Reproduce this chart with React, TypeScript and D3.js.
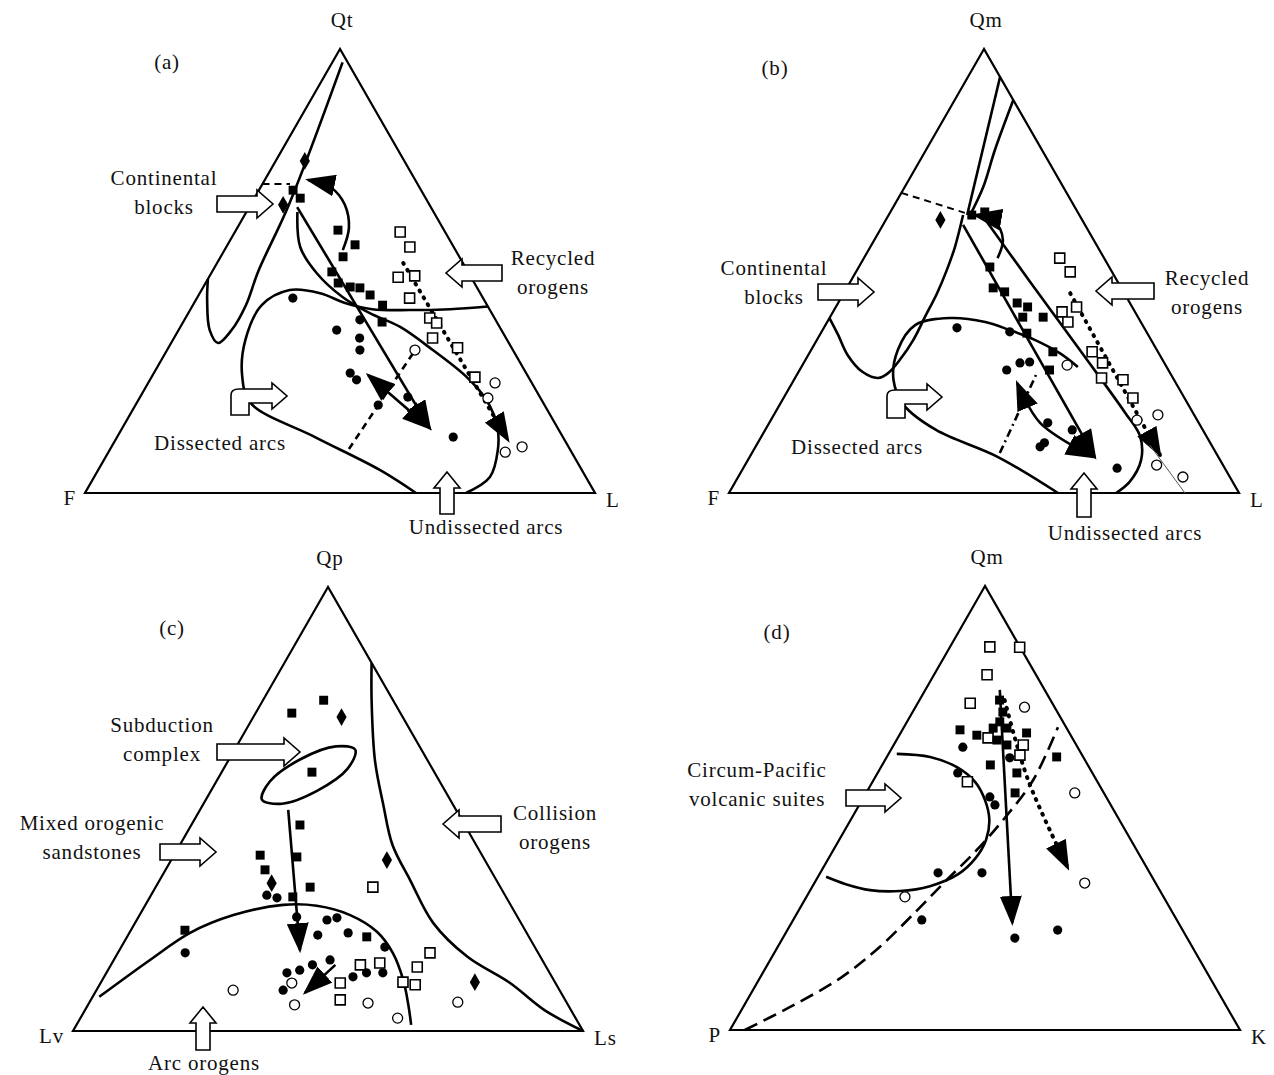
import React from 'react';
import * as d3 from 'd3';

// composition = [top, left, right] in percent
type Comp = [number, number, number];

const SIDE = 510;
const HEIGHT = 444;
const FONT = '"Liberation Serif", "DejaVu Serif", serif';

// ---------- (a) Qt-F-L ----------
const aFieldContinental: Comp[] = [[97, 1, 2], [65, 27.5, 7.5], [50, 41, 9], [42.3, 47.3, 10.4], [36.7, 52.9, 10.4], [33.8, 57, 9.2], [36.7, 57.2, 6.1], [43.5, 54.3, 2.2], [48.2, 51.8, 0]];
const aFieldArcLoop: Comp[] = [[0, 35.1, 64.9], [5.2, 39.6, 55.2], [12.6, 48.6, 38.8], [20.3, 57.4, 22.3], [26.6, 55.9, 17.5], [34.5, 51.3, 14.2], [42.3, 44.2, 13.5], [45.7, 37, 17.3], [45, 31.4, 23.6], [42.8, 27.6, 29.6], [41.4, 23, 35.6], [41.2, 15.7, 43.1], [41.4, 7.7, 50.9], [42, 0, 58]];
const aFieldArcRight: Comp[] = [[63.3, 26.7, 10], [55.4, 30.1, 14.5], [49.5, 29.8, 20.7], [44.1, 27.4, 28.5], [40.5, 23.9, 35.6], [37.4, 19.5, 43.1], [32.2, 15.7, 52.1], [26.1, 12.1, 61.8], [20.9, 10.8, 68.3], [14.9, 11.7, 73.4], [9.7, 14.2, 76.1], [3.6, 18.8, 77.6], [0, 25.3, 74.7]];
const aContinentalDash: Comp[] = [[69.6, 30.4, 0], [69.6, 25, 5.4]];
const aTrendMain: Comp[] = [[64.4, 26.2, 9.4], [14.6, 25.1, 60.3]];
const aTrendDouble: Comp[] = [[26.6, 31.2, 42.2], [14.6, 25.1, 60.3]];
const aTrendCurved: Comp[] = [[54.7, 22.1, 23.2], [59.7, 18.4, 21.9], [64.9, 16.6, 18.5], [68.7, 17.3, 14], [70.5, 21, 8.5]];
const aTrendDashed: Comp[] = [[9.9, 43.3, 46.8], [32.9, 18.4, 48.7]];
const aTrendDotted: Comp[] = [[51.8, 11.7, 36.5], [11.9, 11.1, 77]];
const aFilledSquares: Comp[] = [[68.2, 25.1, 6.7], [66.4, 24.6, 9], [59.2, 20.8, 20], [55.9, 19.1, 25], [53.2, 22.8, 24], [49.8, 26.7, 23.5], [47.3, 26.7, 26], [46.4, 24.8, 28.8], [46.2, 23, 30.8], [44.6, 21.8, 33.6], [42.3, 20.5, 37.2], [38.5, 22.5, 39]];
const aOpenSquares: Comp[] = [[58.8, 8.8, 32.4], [55.4, 8.6, 36], [48.6, 14.3, 37.1], [48.9, 10.9, 40.2], [43.9, 14.4, 41.7], [39.4, 12.7, 47.9], [38.3, 11.9, 49.8], [34.9, 14.4, 50.7], [32.7, 10.6, 56.7], [26.1, 10.5, 63.4]];
const aOpenCircles: Comp[] = [[32.2, 19.2, 48.6], [24.8, 7.2, 68], [21.4, 10.3, 68.3], [9.2, 13, 77.8], [10.4, 9.1, 80.5]];
const aFilledCircles: Comp[] = [[43.9, 37.3, 18.8], [36.7, 32.3, 31], [39, 26.6, 34.4], [34.9, 28.7, 36.4], [32.2, 30, 37.8], [27, 34.5, 38.5], [25.5, 34, 40.5], [21.6, 25.9, 52.5], [19.8, 32.6, 47.6], [12.6, 21.5, 65.9]];
const aDiamonds: Comp[] = [[74.8, 19.5, 5.7], [64.9, 28.7, 6.4]];

// ---------- (b) Qm-F-L ----------
const bFieldUpper1: Comp[] = [[93.7, 0, 6.3], [62.6, 22, 15.4]];
const bFieldUpper2: Comp[] = [[88.5, 0, 11.5], [77.3, 9.2, 13.5], [68.9, 15.7, 15.4], [62.2, 21.8, 16]];
const bFieldContinental: Comp[] = [[62.6, 22.8, 14.6], [55.4, 28, 16.6], [50.2, 32.2, 17.6], [45, 36.7, 18.3], [39.6, 41.8, 18.6], [34.5, 46.6, 18.9], [30, 51.5, 18.5], [27, 55.3, 17.7], [25.9, 57.8, 16.3], [27.3, 60.2, 12.5], [31.1, 61.2, 7.7], [35.6, 60.8, 3.6], [39.4, 60.6, 0]];
const bFieldArcLoop: Comp[] = [[0, 35.5, 64.5], [8.1, 43.2, 48.7], [14.2, 52.3, 33.5], [19.8, 55.8, 24.4], [25.5, 55, 19.5], [32.2, 50.8, 17], [37.8, 44.6, 17.6], [39.4, 37, 23.6], [38.5, 30.5, 31], [36.7, 26.6, 36.7], [34.5, 22.8, 42.7], [31.5, 19.4, 49.1], [28.4, 17.4, 54.2]];
const bFieldArcRight: Comp[] = [[62.6, 19.1, 18.3], [47.7, 17.2, 35.1], [32.2, 15.1, 52.7], [18.2, 13.3, 68.5], [12.8, 13, 74.2], [7.4, 15.5, 77.1], [2.5, 20.2, 77.3], [0, 24.1, 75.9]];
const bContinentalDash: Comp[] = [[67.6, 32.4, 0], [63.1, 22.2, 14.7]];
const bTrendMain: Comp[] = [[60.4, 23.9, 15.7], [8.1, 24.2, 67.7]];
const bTrendDouble: Comp[] = [[24.8, 31.1, 44.1], [15.8, 31.1, 53.1], [8.1, 24.5, 67.4]];
const bTrendCurved: Comp[] = [[52.9, 20.9, 26.2], [57, 17.8, 25.2], [61, 17.3, 21.7], [62.6, 20.5, 16.9]];
const bTrendDashed: Comp[] = [[9, 42.4, 48.6], [26.6, 26.5, 46.9]];
const bTrendDotted: Comp[] = [[45, 10.6, 44.4], [8.6, 11.2, 80.2]];
const bTrendThin: Comp[] = [[10.8, 12.1, 77.1], [0, 10.6, 89.4]];
const bFilledSquares: Comp[] = [[50.9, 23.4, 25.7], [46.2, 25.1, 28.7], [45.3, 23.3, 31.4], [42.8, 22.1, 35.1], [41.9, 20.5, 37.6], [39.6, 18.6, 41.8], [39.6, 22.6, 37.8], [36, 23.6, 40.4], [27.7, 23.3, 49], [31.8, 20.6, 47.6], [62.6, 21.1, 16.3], [63.3, 18.2, 18.5]];
const bOpenSquares: Comp[] = [[52.9, 8.7, 38.4], [49.8, 8.2, 42], [41.9, 10.9, 47.2], [40.8, 14.3, 44.9], [38.5, 14.3, 47.2], [31.8, 12.9, 55.3], [29.3, 12.1, 58.6], [25.9, 14, 60.1], [25.5, 10, 64.5], [21.4, 10.1, 68.5]];
const bOpenCircles: Comp[] = [[28.8, 19.3, 51.9], [16.4, 11.8, 71.8], [17.6, 7.1, 75.3], [6.3, 13, 80.7], [3.6, 9.2, 87.2]];
const bFilledCircles: Comp[] = [[37.2, 36.7, 26.1], [36.3, 26.8, 36.9], [27.7, 31.7, 40.6], [29.3, 28.3, 42.4], [29.5, 26.3, 44.2], [15.8, 29.6, 54.6], [14.2, 25.6, 60.2], [10.4, 33.8, 55.8], [11.3, 32.5, 56.2], [5.6, 21.1, 73.3]];
const bDiamonds: Comp[] = [[61.5, 27.8, 10.7]];

// ---------- (c) Qp-Lv-Ls ----------
const cFieldSubduction: Comp[] = [[63.3, 13, 23.7], [59.1, 16.6, 24.3], [54.1, 25.1, 20.8], [51.2, 33.4, 15.4], [52.1, 36.9, 11], [56.2, 33.3, 10.5], [61.2, 24.8, 14], [64.1, 16.4, 19.5]];
const cFieldArc: Comp[] = [[7.7, 91, 1.3], [16, 76.9, 7.1], [22.1, 66, 11.9], [26.1, 55.5, 18.4], [28.4, 44.6, 27], [28.2, 38.1, 33.7], [26.1, 32.6, 41.3], [22.3, 29.2, 48.5], [17.6, 28.5, 53.9], [11.5, 29.5, 59], [5.9, 31.3, 62.8], [1.4, 33, 65.6]];
const cFieldCollision: Comp[] = [[82.9, 0, 17.1], [74.5, 4.2, 21.3], [61, 10.3, 28.7], [50.9, 13.7, 35.4], [41.9, 16.4, 41.7], [34, 16.9, 49.1], [24.3, 17.2, 58.5], [16.7, 14.3, 69], [10.8, 8.9, 80.3], [4.7, 5.2, 90.1], [0, 0, 100]];
const cTrendMain: Comp[] = [[49.8, 32.9, 17.3], [18.2, 46.4, 35.4]];
const cTrendShort: Comp[] = [[14.9, 41.1, 44], [8.6, 50.2, 41.2]];
const cFilledSquares: Comp[] = [[71.6, 21.3, 7.1], [74.5, 13.6, 11.9], [58.3, 24, 17.7], [46.4, 32.3, 21.3], [39.6, 43.5, 16.9], [36.3, 44.2, 19.5], [39.2, 36.5, 24.3], [32.4, 37.3, 30.3], [22.7, 66.7, 10.6], [21.2, 31.8, 47], [30.2, 41.8, 28]];
const cDiamonds: Comp[] = [[70.7, 12, 17.3], [38.5, 19.2, 42.3], [33.3, 44.4, 22.3], [11, 15.7, 73.3]];
const cOpenSquares: Comp[] = [[32.4, 25, 42.6], [17.6, 21.2, 61.2], [14.9, 36.2, 48.9], [15.3, 32.2, 52.5], [14.4, 25.3, 60.3], [11, 29.8, 59.2], [10.4, 27.7, 61.9], [10.8, 42.2, 47], [7, 44.1, 48.9]];
const cOpenCircles: Comp[] = [[9.2, 64, 26.8], [5.9, 53.6, 40.5], [10.8, 51.7, 37.5], [6.3, 39, 54.7], [2.9, 34.9, 62.2], [6.5, 21.3, 72.2]];
const cFilledCircles: Comp[] = [[30.6, 46.7, 22.7], [30, 45, 25], [25.7, 43.3, 31], [25, 37.7, 37.3], [25.5, 35.5, 39], [21.6, 41.2, 37.2], [22.1, 35, 42.9], [18.9, 29.4, 51.7], [17.6, 69.2, 13.2], [13.1, 51.5, 35.4], [13.7, 48.7, 37.6], [14.9, 45.6, 39.5], [16, 41.6, 42.4], [9.2, 54.2, 36.6], [12.2, 39, 48.8], [13.1, 35.9, 51], [13.1, 32.7, 54.2]];

// ---------- (d) Qm-P-K ----------
const dFieldVolcanic: Comp[] = [[62.2, 36.2, 1.6], [61.5, 30, 8.5], [59.2, 25.9, 14.9], [55.9, 24, 20.1], [51.8, 24.1, 24.1], [47.3, 25.5, 27.2], [42.8, 28.4, 28.8], [38.7, 32.5, 28.8], [35.1, 37.7, 27.2], [32.4, 44.6, 23], [31.3, 51, 17.7], [31.5, 56.8, 11.7], [32.9, 61, 6.1], [34.5, 63.9, 1.6]];
const dFieldDashed: Comp[] = [[0, 97.1, 2.9], [5.2, 85.6, 9.2], [11.7, 72.5, 15.8], [18.7, 61.3, 20], [26.1, 51, 22.9], [33.8, 40.6, 25.6], [40.5, 31.4, 28.1], [47.3, 22.8, 29.9], [56.3, 12.4, 31.3], [68.2, 1.6, 30.2]];
const dTrendMain: Comp[] = [[76.6, 8.8, 14.6], [24.1, 32.6, 43.3]];
const dTrendDotted: Comp[] = [[74.3, 9, 16.7], [56.3, 13.4, 30.3], [36.5, 15.5, 48]];
const dOpenSquares: Comp[] = [[86.3, 5.9, 7.8], [86.2, 0.1, 13.7], [80, 9.6, 10.4], [73.6, 16.1, 10.3], [65.8, 16.5, 17.7], [64.2, 10.4, 25.4], [55.9, 25.5, 18.6], [61.9, 12.2, 25.9]];
const dOpenCircles: Comp[] = [[72.7, 5.9, 21.4], [53.4, 5.7, 40.9], [33.1, 13.9, 53], [30, 50.7, 19.3]];
const dFilledSquares: Comp[] = [[67.6, 21.1, 11.3], [66.4, 18.4, 15.2], [68, 14.4, 17.6], [66.9, 8.4, 24.7], [61.5, 5.2, 33.3], [59.7, 19.1, 21.2], [57.9, 14.8, 27.3], [53.4, 17.4, 29.2], [64.2, 13.6, 22.2], [65.3, 15, 19.7], [74.3, 10, 15.7], [71.6, 10.7, 17.7], [69.4, 12.4, 18.2], [68, 11.7, 20.3]];
const dFilledCircles: Comp[] = [[63.7, 22.5, 13.8], [61.3, 14.5, 24.2], [57.9, 26.4, 15.7], [52.5, 22.8, 24.7], [50.7, 22.7, 26.6], [35.4, 41.5, 23.1], [35.4, 32.9, 31.7], [24.8, 50, 25.2], [20.7, 33.8, 45.5], [22.5, 24.5, 53]];

type Field = { pts: Comp[]; closed?: boolean; dash?: string; width?: number };
type Trend = { pts: Comp[]; kind: 'solid' | 'dashed' | 'dotted' | 'dashdot' | 'thin'; head?: boolean; tail?: boolean };
type Note = { lines: string[]; cx: number; y: number; arrow: string };

// hollow annotation arrows
const hollow = (dir: string, tx: number, ty: number, len: number) => {
  const sh = 8, hh = 14, hl = 16;
  if (dir === 'right') return `M${tx - len},${ty - sh}L${tx - hl},${ty - sh}L${tx - hl},${ty - hh}L${tx},${ty}L${tx - hl},${ty + hh}L${tx - hl},${ty + sh}L${tx - len},${ty + sh}Z`;
  if (dir === 'left') return `M${tx + len},${ty - sh}L${tx + hl},${ty - sh}L${tx + hl},${ty - hh}L${tx},${ty}L${tx + hl},${ty + hh}L${tx + hl},${ty + sh}L${tx + len},${ty + sh}Z`;
  const w = 7, hw = 13;
  return `M${tx - w},${ty + len}L${tx - w},${ty + hl}L${tx - hw},${ty + hl}L${tx},${ty}L${tx + hw},${ty + hl}L${tx + w},${ty + hl}L${tx + w},${ty + len}Z`;
};
const bent = (x: number, yb: number, tx: number, ty: number) =>
  `M${x},${yb}L${x},${ty - 1}Q${x},${ty - 7} ${x + 8},${ty - 7}L${tx - 15},${ty - 7}L${tx - 15},${ty - 13}L${tx},${ty}L${tx - 15},${ty + 13}L${tx - 15},${ty + 7}L${x + 18},${ty + 7}L${x + 18},${yb}Z`;

const panels = [
  {
    x0: 85, yb: 493, names: ['Qt', 'F', 'L'], tag: '(a)', tagPos: [167, 69],
    fields: [
      { pts: aFieldContinental }, { pts: aFieldArcLoop }, { pts: aFieldArcRight },
      { pts: aContinentalDash, dash: '7,5', width: 2 },
    ] as Field[],
    trends: [
      { pts: aTrendMain, kind: 'solid', head: true },
      { pts: aTrendDouble, kind: 'solid', head: true, tail: true },
      { pts: aTrendCurved, kind: 'solid', head: true },
      { pts: aTrendDashed, kind: 'dashed' },
      { pts: aTrendDotted, kind: 'dotted', head: true },
    ] as Trend[],
    fs: aFilledSquares, os: aOpenSquares, fc: aFilledCircles, oc: aOpenCircles, dm: aDiamonds,
    notes: [
      { lines: ['Continental', 'blocks'], cx: 164, y: 185, arrow: hollow('right', 273, 204, 56) },
      { lines: ['Recycled', 'orogens'], cx: 553, y: 265, arrow: hollow('left', 446, 273, 56) },
      { lines: ['Dissected arcs'], cx: 220, y: 450, arrow: bent(231, 415, 287, 396) },
      { lines: ['Undissected arcs'], cx: 486, y: 534, arrow: hollow('up', 447, 472, 42) },
    ] as Note[],
  },
  {
    x0: 729, yb: 493, names: ['Qm', 'F', 'L'], tag: '(b)', tagPos: [775, 75],
    fields: [
      { pts: bFieldUpper1 }, { pts: bFieldUpper2 }, { pts: bFieldContinental },
      { pts: bFieldArcLoop }, { pts: bFieldArcRight },
      { pts: bContinentalDash, dash: '7,5', width: 2 },
    ] as Field[],
    trends: [
      { pts: bTrendMain, kind: 'solid', head: true },
      { pts: bTrendDouble, kind: 'solid', head: true, tail: true },
      { pts: bTrendCurved, kind: 'solid', head: true },
      { pts: bTrendDashed, kind: 'dashdot' },
      { pts: bTrendDotted, kind: 'dotted', head: true },
      { pts: bTrendThin, kind: 'thin' },
    ] as Trend[],
    fs: bFilledSquares, os: bOpenSquares, fc: bFilledCircles, oc: bOpenCircles, dm: bDiamonds,
    notes: [
      { lines: ['Continental', 'blocks'], cx: 774, y: 275, arrow: hollow('right', 874, 292, 56) },
      { lines: ['Recycled', 'orogens'], cx: 1207, y: 285, arrow: hollow('left', 1096, 291, 58) },
      { lines: ['Dissected arcs'], cx: 857, y: 454, arrow: bent(887, 418, 942, 397) },
      { lines: ['Undissected arcs'], cx: 1125, y: 540, arrow: hollow('up', 1084, 473, 44) },
    ] as Note[],
  },
  {
    x0: 73, yb: 1031, names: ['Qp', 'Lv', 'Ls'], tag: '(c)', tagPos: [172, 635],
    fields: [
      { pts: cFieldSubduction, closed: true }, { pts: cFieldArc }, { pts: cFieldCollision },
    ] as Field[],
    trends: [
      { pts: cTrendMain, kind: 'solid', head: true },
      { pts: cTrendShort, kind: 'solid', head: true },
    ] as Trend[],
    fs: cFilledSquares, os: cOpenSquares, fc: cFilledCircles, oc: cOpenCircles, dm: cDiamonds,
    notes: [
      { lines: ['Subduction', 'complex'], cx: 162, y: 732, arrow: hollow('right', 300, 752, 83) },
      { lines: ['Mixed orogenic', 'sandstones'], cx: 92, y: 830, arrow: hollow('right', 216, 852, 56) },
      { lines: ['Collision', 'orogens'], cx: 555, y: 820, arrow: hollow('left', 443, 824, 58) },
      { lines: ['Arc orogens'], cx: 204, y: 1070, arrow: hollow('up', 203, 1007, 43) },
    ] as Note[],
  },
  {
    x0: 730, yb: 1030, names: ['Qm', 'P', 'K'], tag: '(d)', tagPos: [777, 639],
    fields: [
      { pts: dFieldVolcanic }, { pts: dFieldDashed, dash: '14,7' },
    ] as Field[],
    trends: [
      { pts: dTrendMain, kind: 'solid', head: true },
      { pts: dTrendDotted, kind: 'dotted', head: true },
    ] as Trend[],
    fs: dFilledSquares, os: dOpenSquares, fc: dFilledCircles, oc: dOpenCircles, dm: [] as Comp[],
    notes: [
      { lines: ['Circum-Pacific', 'volcanic suites'], cx: 757, y: 777, arrow: hollow('right', 901, 798, 55) },
    ] as Note[],
  },
];

const dashFor: Record<string, string | undefined> = {
  solid: undefined, dashed: '7,5', dotted: '1,7', dashdot: '8,4,2,4', thin: undefined,
};

function Panel({ p, k }: { p: (typeof panels)[number]; k: number }) {
  const xs = d3.scaleLinear().domain([0, 100]).range([p.x0, p.x0 + SIDE]);
  const ys = d3.scaleLinear().domain([0, 100]).range([p.yb, p.yb - HEIGHT]);
  const px = (d: Comp) => xs(d[2] + d[0] / 2);
  const py = (d: Comp) => ys(d[0]);
  const curve = d3.line<Comp>().x(px).y(py).curve(d3.curveCatmullRom.alpha(0.5));
  const closed = d3.line<Comp>().x(px).y(py).curve(d3.curveCatmullRomClosed.alpha(0.5));
  const straight = d3.line<Comp>().x(px).y(py);
  const corners: Comp[] = [[100, 0, 0], [0, 100, 0], [0, 0, 100]];
  const sq = d3.symbol(d3.symbolSquare, 80)();
  const osq = d3.symbol(d3.symbolSquare, 100)();
  const dia = d3.symbol(d3.symbolDiamond, 90)();
  const txt = { fontFamily: FONT, fontSize: 21, letterSpacing: 0.8, fill: '#111' } as const;

  return (
    <g>
      <path d={straight(corners) + 'Z'} fill="none" stroke="#000" strokeWidth={2.2} strokeLinejoin="miter" />
      <text {...txt} x={px(corners[0]) + 2} y={py(corners[0]) - 22} textAnchor="middle">{p.names[0]}</text>
      <text {...txt} x={px(corners[1]) - 9} y={py(corners[1]) + 12} textAnchor="end">{p.names[1]}</text>
      <text {...txt} x={px(corners[2]) + 11} y={py(corners[2]) + 14} textAnchor="start">{p.names[2]}</text>
      <text {...txt} x={p.tagPos[0]} y={p.tagPos[1]} textAnchor="middle">{p.tag}</text>

      {p.fields.map((f, i) => (
        <path key={i} d={(f.closed ? closed(f.pts) : f.pts.length > 2 ? curve(f.pts) : straight(f.pts)) || ''}
          fill="none" stroke="#000" strokeWidth={f.width ?? 2.6} strokeDasharray={f.dash} />
      ))}

      {p.trends.map((t, i) => (
        <path key={i} d={(t.pts.length > 2 ? curve(t.pts) : straight(t.pts)) || ''}
          fill="none" stroke={t.kind === 'thin' ? '#555' : '#000'}
          strokeWidth={t.kind === 'thin' ? 1 : t.kind === 'dotted' ? 4 : 2.6}
          strokeLinecap={t.kind === 'dotted' ? 'round' : 'butt'}
          strokeDasharray={dashFor[t.kind]}
          markerEnd={t.head ? `url(#ah)` : undefined}
          markerStart={t.tail ? `url(#ah)` : undefined} />
      ))}

      {p.notes.map((n, i) => (
        <g key={i}>
          {n.lines.map((s, j) => (
            <text key={j} {...txt} x={n.cx} y={n.y + j * 29} textAnchor="middle">{s}</text>
          ))}
          <path d={n.arrow} fill="#fff" stroke="#000" strokeWidth={1.6} strokeLinejoin="miter" />
        </g>
      ))}

      {p.oc.map((d, i) => <circle key={'oc' + i} cx={px(d)} cy={py(d)} r={5} fill="#fff" stroke="#000" strokeWidth={1.3} />)}
      {p.os.map((d, i) => <path key={'os' + i} d={osq} transform={`translate(${px(d)},${py(d)})`} fill="#fff" stroke="#000" strokeWidth={1.6} />)}
      {p.fc.map((d, i) => <circle key={'fc' + i} cx={px(d)} cy={py(d)} r={4.6} fill="#000" />)}
      {p.fs.map((d, i) => <path key={'fs' + i} d={sq} transform={`translate(${px(d)},${py(d)})`} fill="#000" />)}
      {p.dm.map((d, i) => <path key={'dm' + i} d={dia} transform={`translate(${px(d)},${py(d)})`} fill="#000" />)}
    </g>
  );
}

export default function App() {
  return (
    <svg width={1274} height={1075} style={{ position: 'absolute', left: 0, top: 0, background: '#fff' }}>
      <defs>
        <marker id="ah" viewBox="0 0 30 22" refX={27} refY={11} markerWidth={30} markerHeight={22}
          markerUnits="userSpaceOnUse" orient="auto-start-reverse">
          <path d="M0,0L30,11L0,22Z" fill="#000" />
        </marker>
      </defs>
      <rect width={1274} height={1075} fill="#fff" />
      {panels.map((p, i) => <Panel key={i} p={p} k={i} />)}
    </svg>
  );
}
